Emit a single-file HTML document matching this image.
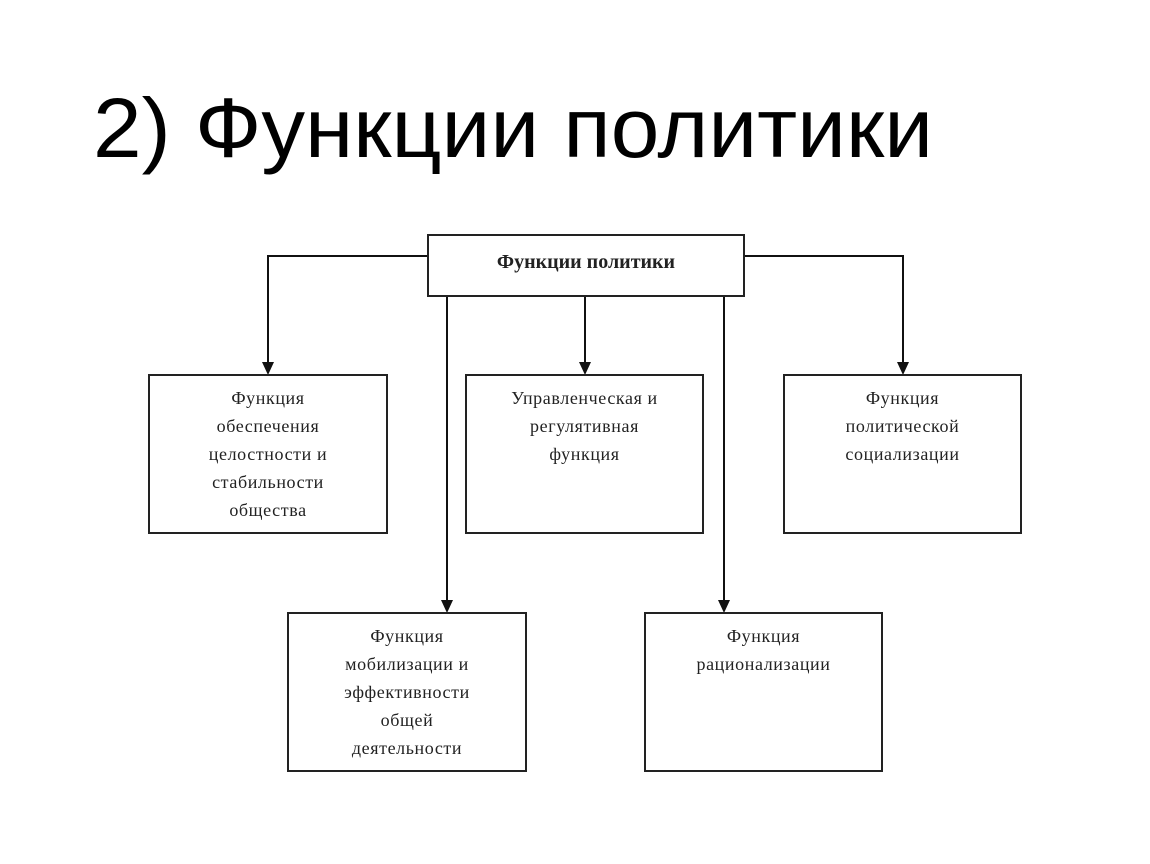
<!DOCTYPE html>
<html><head><meta charset="utf-8"><style>
body{margin:0;width:1150px;height:864px;background:#fff;overflow:hidden;position:relative}
.t{position:absolute;left:93px;top:78px;font-family:"Liberation Sans",sans-serif;font-size:84px;line-height:100px;color:#000;white-space:nowrap;transform:scaleX(1.04);transform-origin:left top}
svg{position:absolute;left:0;top:0}
.bx{position:absolute;border:2px solid #222;box-sizing:border-box;font-family:"Liberation Serif",serif;font-size:18px;letter-spacing:0.6px;line-height:28px;text-align:center;padding-top:8px;color:#222;background:#fff}
</style></head><body>
<div class="t">2) Функции политики</div>
<svg width="1150" height="864">
<g stroke="#111" stroke-width="2" fill="none">
<polyline points="428,256 268,256 268,364"/>
<polyline points="744,256 903,256 903,364"/>
<line x1="447" y1="296" x2="447" y2="602"/>
<line x1="585" y1="296" x2="585" y2="364"/>
<line x1="724" y1="296" x2="724" y2="602"/>
</g>
<g fill="#111">
<path d="M262,362 L274,362 L268,375 Z"/>
<path d="M897,362 L909,362 L903,375 Z"/>
<path d="M579,362 L591,362 L585,375 Z"/>
<path d="M441,600 L453,600 L447,613 Z"/>
<path d="M718,600 L730,600 L724,613 Z"/>
</g>
</svg>
<div class="bx" style="left:427px;top:234px;width:318px;height:63px;font-weight:bold;padding-top:12px;font-size:20px;letter-spacing:0">Функции политики</div>
<div class="bx" style="left:148px;top:374px;width:240px;height:160px">Функция<br>обеспечения<br>целостности и<br>стабильности<br>общества</div>
<div class="bx" style="left:465px;top:374px;width:239px;height:160px">Управленческая и<br>регулятивная<br>функция</div>
<div class="bx" style="left:783px;top:374px;width:239px;height:160px">Функция<br>политической<br>социализации</div>
<div class="bx" style="left:287px;top:612px;width:240px;height:160px">Функция<br>мобилизации и<br>эффективности<br>общей<br>деятельности</div>
<div class="bx" style="left:644px;top:612px;width:239px;height:160px">Функция<br>рационализации</div>
</body></html>
